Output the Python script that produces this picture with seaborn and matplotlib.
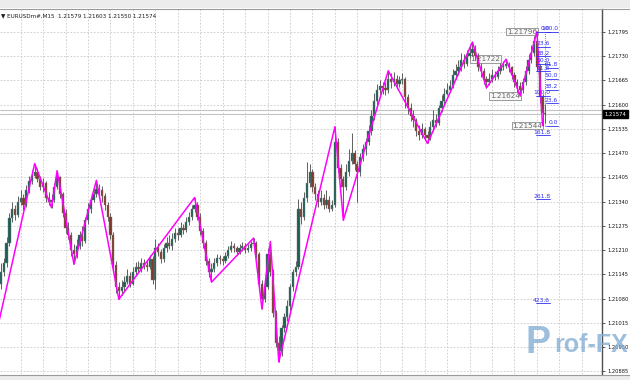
import numpy as np
import pandas as pd
import matplotlib
matplotlib.use("Agg")
import matplotlib.pyplot as plt
from matplotlib.patches import Rectangle
from matplotlib.lines import Line2D
import seaborn as sns

# ---------------- data (prices in points, 1 point = 0.00001, relative to BASE) ----------------
SYMBOL = "EURUSDm#,M15"
BASE = 1.21000
POINT = 0.00001

first_open = 120
closes = [150, 175, 230, 295, 320, 305, 340, 350, 330, 370,
          395, 410, 420, 400, 380, 390, 350, 340, 345, 380,
          405, 360, 310, 270, 250, 210, 200, 220, 250, 235,
          290, 320, 345, 360, 375, 370, 355, 330, 300, 250,
          170, 110, 100, 110, 125, 140, 120, 150, 165, 160,
          175, 170, 165, 185, 130, 215, 205, 185, 215, 230,
          220, 240, 255, 250, 270, 265, 285, 300, 320, 330,
          300, 260, 230, 180, 150, 160, 175, 190, 185, 180,
          195, 210, 220, 215, 205, 215, 220, 210, 215, 225,
          230, 200, 120, 80, 110, 200, 150, 40, -40, -60,
          0, 30, 60, 110, 150, 165, 320, 300, 350, 390,
          420, 380, 360, 340, 350, 330, 345, 320, 330, 500,
          430, 400, 380, 420, 450, 470, 440, 420, 460, 480,
          500, 530, 570, 610, 640, 650, 645, 640, 670, 660,
          670, 655, 665, 670, 620, 590, 570, 560, 530, 520,
          535, 520, 510, 540, 560, 550, 590, 610, 630, 640,
          650, 680, 690, 700, 720, 710, 730, 740, 750, 730,
          700, 690, 670, 660, 670, 680, 675, 690, 700, 705,
          710, 700, 680, 660, 650, 640, 660, 690, 720, 740,
          770, 700, 620, 579, 574]
highs = [175, 190, 245, 310, 340, 330, 355, 372, 360, 385,
         410, 425, 442, 430, 408, 402, 395, 365, 360, 390,
         423, 410, 365, 320, 285, 258, 225, 240, 262, 275,
         300, 335, 352, 378, 397, 388, 382, 362, 340, 310,
         258, 180, 125, 130, 140, 158, 150, 165, 178, 180,
         190, 185, 180, 198, 195, 240, 230, 212, 225, 245,
         250, 255, 270, 268, 285, 280, 298, 312, 330, 351,
         340, 310, 268, 238, 190, 175, 188, 200, 198, 195,
         205, 222, 233, 230, 222, 225, 232, 228, 225, 235,
         242, 235, 205, 130, 125, 215, 233, 158, 50, -20,
         10, 40, 75, 120, 160, 180, 346, 340, 365, 445,
         440, 428, 390, 372, 370, 360, 372, 355, 345, 541,
         510, 440, 410, 440, 480, 525, 478, 450, 470, 495,
         510, 545, 585, 632, 655, 667, 662, 660, 691, 685,
         688, 680, 678, 685, 675, 630, 605, 585, 565, 545,
         550, 540, 530, 555, 587, 575, 600, 625, 645, 659,
         667, 695, 710, 720, 740, 735, 747, 758, 768, 760,
         738, 712, 698, 678, 685, 695, 690, 705, 712, 718,
         722, 715, 705, 688, 668, 660, 672, 705, 735, 760,
         785, 796, 708, 630, 603]
lows = [105, 140, 165, 222, 285, 290, 298, 330, 318, 325,
        362, 388, 402, 392, 370, 365, 340, 330, 324, 338,
        375, 350, 300, 255, 240, 195, 172, 190, 212, 222,
        228, 280, 310, 338, 352, 355, 340, 318, 288, 240,
        160, 95, 78, 90, 100, 118, 112, 115, 142, 150,
        152, 158, 155, 160, 120, 105, 195, 175, 178, 205,
        212, 210, 232, 238, 244, 252, 258, 276, 292, 312,
        290, 250, 215, 170, 138, 124, 150, 168, 172, 170,
        175, 188, 205, 205, 198, 200, 208, 202, 205, 208,
        218, 190, 110, 52, 70, 105, 140, 30, -50, -90,
        -75, -10, 20, 50, 100, 140, 158, 280, 292, 340,
        380, 365, 345, 325, 330, 319, 322, 312, 315, 325,
        420, 380, 290, 370, 410, 440, 425, 338, 410, 450,
        465, 492, 520, 560, 600, 628, 630, 625, 632, 645,
        650, 642, 648, 655, 592, 575, 555, 540, 515, 505,
        510, 505, 496, 505, 530, 540, 545, 580, 600, 625,
        635, 645, 670, 680, 690, 698, 705, 725, 730, 720,
        690, 675, 655, 645, 652, 662, 665, 668, 682, 692,
        698, 688, 668, 648, 635, 624, 632, 652, 682, 712,
        730, 690, 605, 544, 550]

ask_pts = 586

# zigzag vertices (bar index, price in points)
zz_bars = [-3, 12, 18, 20, 26, 34, 42, 69, 75, 90, 93, 96, 99, 119, 122,
           138, 152, 168, 173, 180, 185, 191, 193]
zz_pts = [-57, 442, 324, 423, 172, 397, 78, 351, 124, 242, 52, 233, -90, 541, 290,
          691, 496, 768, 645, 722, 624, 796, 544]

# zigzag price labels
swing_labels = ["1.21796", "1.21722", "1.21624", "1.21544"]
swing_bars = [191, 178, 185, 193]
swing_pts = [796, 722, 624, 544]

# fibonacci sets
fib1_levels = [0.0, 23.6, 38.2, 50.0, 61.8, 100.0, 161.8, 261.8, 423.6]
fib1_from, fib1_to = 796, 624
fib2_levels = [0.0, 23.6, 38.2, 50.0, 61.8, 100.0]
fib2_from, fib2_to = 544, 796

y_ticks = [1.21795, 1.21730, 1.21665, 1.21600, 1.21535, 1.21470, 1.21405,
           1.21340, 1.21275, 1.21210, 1.21145, 1.21080, 1.21015, 1.20950, 1.20885]

# ---------------- build frame ----------------
opens = [first_open] + closes[:-1]
df = pd.DataFrame({
    "bar": np.arange(len(closes)),
    "open": BASE + np.array(opens) * POINT,
    "high": BASE + np.array(highs) * POINT,
    "low": BASE + np.array(lows) * POINT,
    "close": BASE + np.array(closes) * POINT,
})
df["bull"] = df["close"] >= df["open"]
zz = pd.DataFrame({"bar": zz_bars, "price": BASE + np.array(zz_pts) * POINT})

# ---------------- figure ----------------
sns.set_theme(style="white")
plt.rcParams['font.family'] = ['DejaVu Sans']

W, H = 630, 380
fig = plt.figure(figsize=(W / 100, H / 100), dpi=100)
fig.patch.set_facecolor("white")

def fy(py):
    return 1 - py / H

# window strips
fig.add_artist(Rectangle((0, fy(8)), 1, 8 / H, transform=fig.transFigure,
                         facecolor="#ececec", edgecolor="none", zorder=0))
fig.add_artist(Rectangle((0, 0), 1, fy(375), transform=fig.transFigure,
                         facecolor="#ececec", edgecolor="none", zorder=0))
fig.add_artist(Line2D([0, 1], [fy(8.5), fy(8.5)], transform=fig.transFigure,
                      color="#9a9a9a", lw=0.8))
fig.add_artist(Line2D([0, 1], [fy(374.5), fy(374.5)], transform=fig.transFigure,
                      color="#9a9a9a", lw=0.8))

ax = fig.add_axes([0, fy(374), 602 / W, (374 - 8.5) / H])
ax.set_facecolor("white")

BAR_PX = 2.806
x_left = -1 / BAR_PX
x_right = 601 / BAR_PX
px_pt = 0.00065 / 24.23
y_top = 1.21795 + (32 - 8.5) * px_pt
y_bot = 1.21795 - (374 - 32) * px_pt

# grid
grid_bars = np.arange(-1, 214, 8)
ax.set_xticks(grid_bars)
ax.set_yticks(y_ticks)
ax.grid(True, color="#c8c8c8", linestyle=(0, (2, 2)), linewidth=0.6, zorder=0)

# bid / ask lines
bid = df["close"].iloc[-1]
ask = BASE + ask_pts * POINT
ax.axhline(ask, color="#c4c4c4", lw=0.8, zorder=1)
ax.axhline(bid, color="#c4c4c4", lw=0.8, zorder=1)

# swing labels (behind candles)
for lab, b, p in zip(swing_labels, swing_bars, swing_pts):
    ax.annotate(lab, xy=(b, BASE + p * POINT), xytext=(0, 0), textcoords="offset points",
                ha="right", va="center", fontsize=5.2, color="#6a6a6a", zorder=1.5,
                bbox=dict(boxstyle="square,pad=0.12", fc="#f7f7f7", ec="#8c8c8c", lw=0.6))

# candles
BULL = "#1f5e55"
BEAR = "#7f3a2c"
WICK = "#5e5e5e"
ax.vlines(df["bar"], df["low"], df["high"], color=WICK, lw=0.7, zorder=2)
bulls = df[df["bull"]]
bears = df[~df["bull"]]
ax.bar(bulls["bar"], bulls["close"] - bulls["open"], bottom=bulls["open"], width=0.8,
       color=BULL, edgecolor="#6f7f7a", linewidth=0.3, zorder=3)
ax.bar(bears["bar"], bears["open"] - bears["close"], bottom=bears["close"], width=0.8,
       color=BEAR, edgecolor="#857570", linewidth=0.3, zorder=3)

# zigzag
sns.lineplot(data=zz, x="bar", y="price", ax=ax, color="#ff00ff", linewidth=1.1,
             estimator=None, sort=False, zorder=4, legend=False)

# fib trend line (dotted)
ax.plot([194, 194], [BASE + fib2_from * POINT, BASE + fib2_to * POINT],
        color="#5a4a8a", lw=0.6, ls=(0, (1, 1.5)), zorder=4)

# fibonacci levels
FIBC = "#2f2ff0"
def draw_fib(levels, p_from, p_to, x0, x1):
    for r in levels:
        price = BASE + (p_from + (p_to - p_from) * r / 100.0) * POINT
        ax.plot([x0, x1], [price, price], color=FIBC, lw=0.6, zorder=5)
        ax.annotate(f"{r:.1f}", xy=(x1, price), xytext=(0, 0.2), textcoords="offset points",
                    ha="right", va="bottom", fontsize=4.3, color=FIBC, zorder=6)

draw_fib(fib1_levels, fib1_from, fib1_to, 190.6, 195.7)
draw_fib(fib2_levels, fib2_from, fib2_to, 194.2, 198.5)

# axes cosmetics
ax.set_xlim(x_left, x_right)
ax.set_ylim(y_bot, y_top)
ax.set_xlabel("")
ax.set_ylabel("")
ax.tick_params(axis="x", length=0, labelbottom=False)
ax.yaxis.tick_right()
ax.set_yticklabels([f"{t:.5f}" for t in y_ticks])
ax.tick_params(axis="y", direction="out", length=2.5, width=0.6, color="#404040",
               labelsize=3.7, pad=1.5, labelcolor="#111111")
for s in ["left", "top", "bottom"]:
    ax.spines[s].set_visible(False)
ax.spines["right"].set_color("#505050")
ax.spines["right"].set_linewidth(1.0)

# current price tag
ax.annotate(f"{bid:.5f}", xy=(1, bid), xycoords=("axes fraction", "data"),
            xytext=(2.0, 0), textcoords="offset points", ha="left", va="center",
            fontsize=3.8, color="white", annotation_clip=False, zorder=10,
            bbox=dict(boxstyle="square,pad=0.3", fc="black", ec="black"))

# header
o, h, l, c = opens[-1], highs[-1], lows[-1], closes[-1]
hdr = "\u25bc " + SYMBOL + "  " + " ".join(f"{BASE + v * POINT:.5f}" for v in (o, h, l, c))
fig.text(1 / W, fy(15.3), hdr, fontsize=4.1, color="#1a1a1a", ha="left", va="center")

# watermark logo
LOGO = "#86afd3"
fig.text(551 / W, fy(353), "P", fontsize=27, fontweight="bold", color=LOGO,
         family=["Liberation Sans", "DejaVu Sans"], alpha=0.8, ha="right", va="baseline", zorder=20)
fig.text(628 / W, fy(352), "rof-FX", fontsize=18, fontweight="bold", color=LOGO,
         family=["Liberation Sans", "DejaVu Sans"], alpha=0.8, ha="right", va="baseline", zorder=20)

fig.savefig("out.png", dpi=100, facecolor=fig.get_facecolor())
